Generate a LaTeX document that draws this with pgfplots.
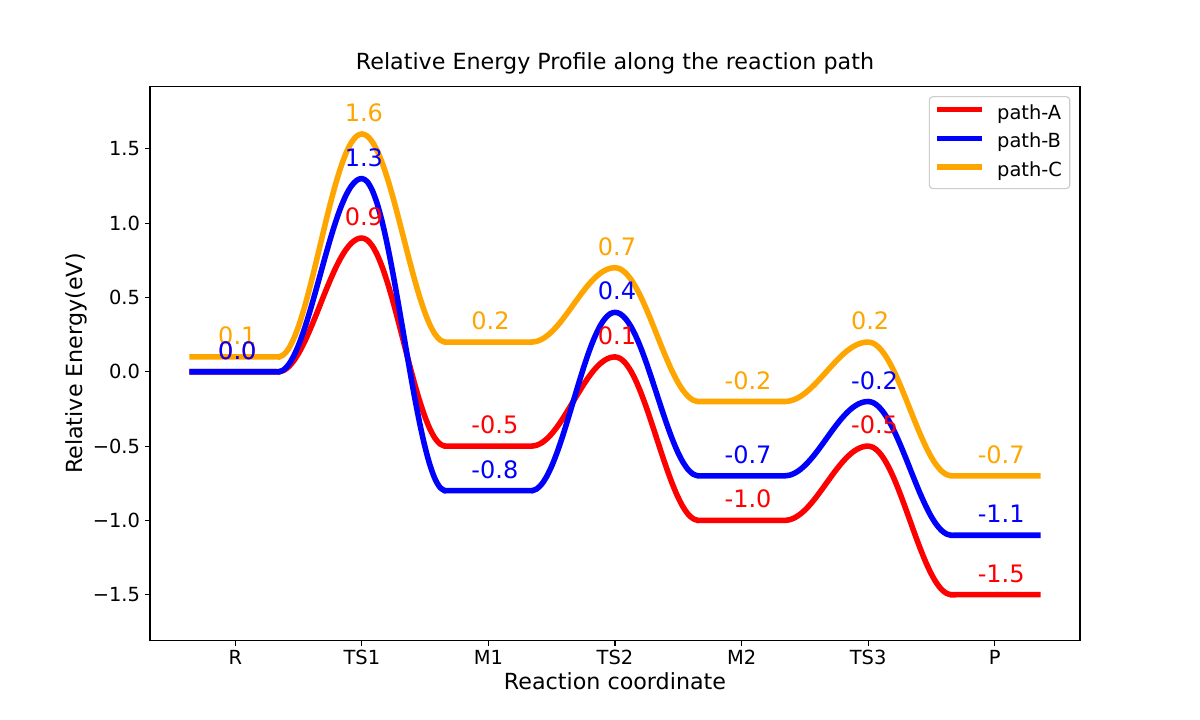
\documentclass[border=0pt]{standalone}
\usepackage{fontspec}
\setmainfont{DejaVu Sans}
\usepackage{pgfplots}
\pgfplotsset{compat=1.18}
\usepackage{pgfplotstable}
\definecolor{mplorange}{HTML}{FFA500}

\pgfplotstableread{
x A B C
-0.34 0 0 0.1
0.29875 0 0 0.1
0.34 0 0 0.1
0.38125 0.0086 0.0125 0.1144
0.4225 0.0343 0.0495 0.1571
0.46375 0.0759 0.1096 0.2264
0.505 0.1318 0.1904 0.3197
0.54625 0.2000 0.2889 0.4333
0.5875 0.2778 0.4013 0.5630
0.62875 0.3622 0.5233 0.7038
0.67 0.45 0.65 0.85
0.71125 0.5378 0.7768 0.9963
0.7525 0.6222 0.8987 1.1370
0.79375 0.7000 1.0111 1.2667
0.835 0.7682 1.1096 1.3803
0.87625 0.8241 1.1904 1.4736
0.9175 0.8657 1.2505 1.5429
0.95875 0.8914 1.2875 1.5856
1.0 0.9 1.3 1.6
1.04125 0.8866 1.2798 1.5866
1.0825 0.8467 1.2200 1.5467
1.12375 0.7820 1.1230 1.4820
1.165 0.6950 0.9926 1.3950
1.20625 0.5889 0.8334 1.2889
1.2475 0.4678 0.6517 1.1678
1.28875 0.3365 0.4547 1.0365
1.33 0.2 0.25 0.9
1.37125 0.0635 0.0452 0.7635
1.4125 -0.0678 -0.1517 0.6322
1.45375 -0.1889 -0.3334 0.5111
1.495 -0.2950 -0.4926 0.4050
1.53625 -0.3820 -0.6230 0.3180
1.5775 -0.4467 -0.7200 0.2533
1.61875 -0.4866 -0.7798 0.2134
1.66 -0.5 -0.8 0.2
1.70125 -0.5 -0.8 0.2
2.29875 -0.5 -0.8 0.2
2.34 -0.5 -0.8 0.2
2.38125 -0.4942 -0.7885 0.2048
2.4225 -0.4771 -0.7543 0.2191
2.46375 -0.4494 -0.6988 0.2422
2.505 -0.4122 -0.6243 0.2732
2.54625 -0.3667 -0.5334 0.3111
2.5875 -0.3148 -0.4296 0.3543
2.62875 -0.2585 -0.3170 0.4013
2.67 -0.2 -0.2 0.45
2.71125 -0.1415 -0.0830 0.4988
2.7525 -0.0852 0.0296 0.5457
2.79375 -0.0333 0.1334 0.5889
2.835 0.0122 0.2243 0.6268
2.87625 0.0494 0.2988 0.6579
2.9175 0.0771 0.3543 0.6810
2.95875 0.0942 0.3885 0.6952
3.0 0.1 0.4 0.7
3.04125 0.0894 0.3894 0.6914
3.0825 0.0581 0.3581 0.6657
3.12375 0.0073 0.3073 0.6241
3.165 -0.0610 0.2390 0.5682
3.20625 -0.1444 0.1556 0.5000
3.2475 -0.2396 0.0604 0.4222
3.28875 -0.3428 -0.0428 0.3378
3.33 -0.45 -0.15 0.25
3.37125 -0.5573 -0.2573 0.1622
3.4125 -0.6604 -0.3604 0.0778
3.45375 -0.7556 -0.4556 0.0000
3.495 -0.8390 -0.5390 -0.0682
3.53625 -0.9073 -0.6073 -0.1241
3.5775 -0.9581 -0.6581 -0.1657
3.61875 -0.9894 -0.6894 -0.1914
3.66 -1.0 -0.7 -0.2
3.70125 -1.0 -0.7 -0.2
4.29875 -1.0 -0.7 -0.2
4.34 -1.0 -0.7 -0.2
4.38125 -0.9952 -0.6952 -0.1962
4.4225 -0.9809 -0.6809 -0.1848
4.46375 -0.9578 -0.6578 -0.1663
4.505 -0.9268 -0.6268 -0.1414
4.54625 -0.8889 -0.5889 -0.1111
4.5875 -0.8457 -0.5457 -0.0765
4.62875 -0.7987 -0.4987 -0.0390
4.67 -0.75 -0.45 0.0
4.71125 -0.7012 -0.4012 0.0390
4.7525 -0.6543 -0.3543 0.0765
4.79375 -0.6111 -0.3111 0.1111
4.835 -0.5732 -0.2732 0.1414
4.87625 -0.5421 -0.2421 0.1663
4.9175 -0.5190 -0.2190 0.1848
4.95875 -0.5048 -0.2048 0.1962
5.0 -0.5 -0.2 0.2
5.04125 -0.5096 -0.2086 0.1914
5.0825 -0.5381 -0.2343 0.1657
5.12375 -0.5843 -0.2759 0.1241
5.165 -0.6464 -0.3318 0.0682
5.20625 -0.7222 -0.4000 0.0000
5.2475 -0.8087 -0.4778 -0.0778
5.28875 -0.9025 -0.5622 -0.1622
5.33 -1.0 -0.65 -0.25
5.37125 -1.0975 -0.7378 -0.3378
5.4125 -1.1913 -0.8222 -0.4222
5.45375 -1.2778 -0.9000 -0.5000
5.495 -1.3536 -0.9682 -0.5682
5.53625 -1.4157 -1.0241 -0.6241
5.5775 -1.4619 -1.0657 -0.6657
5.61875 -1.4904 -1.0914 -0.6914
5.66 -1.5 -1.1 -0.7
5.70125 -1.5 -1.1 -0.7
6.34 -1.5 -1.1 -0.7
}\curves

\pgfplotstableread{
xa ya la xb yb lb xc yc lc
0.016 0 0.0 0.016 0 0.0 0.016 0.1 0.1
1.016 0.9 0.9 1.016 1.3 1.3 1.016 1.6 1.6
2.051 -0.5 -0.5 2.051 -0.8 -0.8 2.016 0.2 0.2
3.016 0.1 0.1 3.016 0.4 0.4 3.016 0.7 0.7
4.051 -1.0 -1.0 4.051 -0.7 -0.7 4.051 -0.2 -0.2
5.051 -0.5 -0.5 5.051 -0.2 -0.2 5.016 0.2 0.2
6.051 -1.5 -1.5 6.051 -1.1 -1.1 6.051 -0.7 -0.7
}\labels

\begin{document}
\begin{tikzpicture}
\path[use as bounding box] (0,0) rectangle (864pt,518.4pt);
\begin{axis}[
  at={(108pt,57.024pt)}, anchor=south west,
  scale only axis, width=669.6pt, height=399.17pt,
  xmin=-0.674, xmax=6.674, ymin=-1.81, ymax=1.92,
  axis line style={line width=0.8pt},
  every tick/.style={line width=0.8pt, black},
  tick align=outside, major tick length=3.5pt,
  xtick pos=left, ytick pos=left,
  xtick={0,1,2,3,4,5,6}, xticklabels={R,TS1,M1,TS2,M2,TS3,P},
  ytick={-1.5,-1,-0.5,0,0.5,1,1.5},
  yticklabels={−1.5,−1.0,−0.5,0.0,0.5,1.0,1.5},
  ticklabel style={font=\fontsize{14}{16.8}\selectfont},
  xticklabel style={anchor=base, inner sep=0pt, yshift=-13.6pt},
  yticklabel style={anchor=east, inner sep=0pt, xshift=-3.5pt},
  clip=false,
  legend cell align=left,
  legend style={at={(1,1)}, anchor=north east, xshift=-7pt, yshift=-7pt,
    draw=black!20, line width=0.8pt, rounded corners=2.5pt, fill=white,
    inner xsep=5.6pt, inner ysep=5.6pt, row sep=7.1pt,
    font=\fontsize{14}{16.8}\selectfont,
    nodes={inner sep=0pt, text height=10.6pt, text depth=3pt},
    /tikz/every odd column/.append style={column sep=11.2pt}},
  legend image code/.code={\draw[#1, line cap=rect, line width=4pt] (0pt,3pt) -- (28pt,3pt);},
]
\addplot[red, line width=4pt, smooth, line cap=rect, line join=round] table[x=x,y=A] {\curves};
\addlegendentry{path-A}
\addplot[blue, line width=4pt, smooth, line cap=rect, line join=round] table[x=x,y=B] {\curves};
\addlegendentry{path-B}
\addplot[mplorange, line width=4pt, smooth, line cap=rect, line join=round] table[x=x,y=C] {\curves};
\addlegendentry{path-C}

\addplot[forget plot, draw=none, mark=none, nodes near coords, point meta=explicit symbolic,
  every node near coord/.append style={text=red, font=\fontsize{17.28}{20.7}\selectfont, anchor=base, inner sep=0pt, yshift=8.95pt}]
  table[x=xa, y=ya, meta=la] {\labels};
\addplot[forget plot, draw=none, mark=none, nodes near coords, point meta=explicit symbolic,
  every node near coord/.append style={text=mplorange, font=\fontsize{17.28}{20.7}\selectfont, anchor=base, inner sep=0pt, yshift=8.95pt}]
  table[x=xc, y=yc, meta=lc] {\labels};
\addplot[forget plot, draw=none, mark=none, nodes near coords, point meta=explicit symbolic,
  every node near coord/.append style={text=blue, font=\fontsize{17.28}{20.7}\selectfont, anchor=base, inner sep=0pt, yshift=8.95pt}]
  table[x=xb, y=yb, meta=lb] {\labels};
\end{axis}
\node[font=\fontsize{16}{19.2}\selectfont, anchor=base, inner sep=0pt] at (442.8pt,468.7pt) {Relative Energy Profile along the reaction path};
\node[font=\fontsize{16}{19.2}\selectfont, anchor=base, inner sep=0pt] at (442.8pt,21.6pt) {Reaction coordinate};
\node[font=\fontsize{16}{19.2}\selectfont, anchor=base, inner sep=0pt, rotate=90] at (59.7pt,256.6pt) {Relative Energy(eV)};
\end{tikzpicture}
\end{document}
